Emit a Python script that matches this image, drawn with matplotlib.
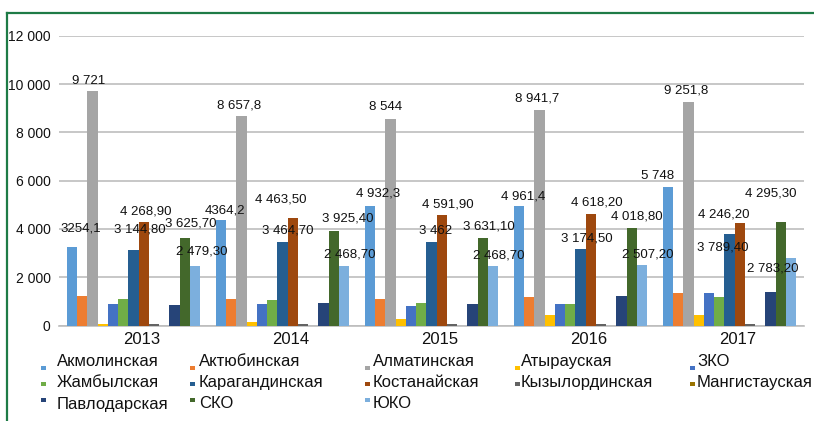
import matplotlib
matplotlib.use("Agg")
import matplotlib.pyplot as plt
from matplotlib.transforms import ScaledTranslation
from matplotlib.lines import Line2D
from matplotlib.patches import Rectangle
import numpy as np

years = ["2013", "2014", "2015", "2016", "2017"]
regions = ["Акмолинская", "Актюбинская", "Алматинская", "Атырауская", "ЗКО",
           "Жамбылская", "Карагандинская", "Костанайская", "Кызылординская",
           "Мангистауская", "Павлодарская", "СКО", "ЮКО"]

akmola = [3254.1, 4364.2, 4932.3, 4961.4, 5748]
aktobe = [1220, 1100, 1110, 1190, 1330]
almaty = [9721, 8657.8, 8544, 8941.7, 9251.8]
atyrau = [80, 130, 280, 440, 415]
zko = [900, 900, 820, 900, 1360]
zhambyl = [1110, 1060, 915, 900, 1165]
karaganda = [3144.8, 3464.7, 3462, 3174.5, 3789.4]
kostanay = [4268.9, 4463.5, 4591.9, 4618.2, 4246.2]
kyzylorda = [55, 55, 55, 55, 70]
mangistau = [0, 0, 0, 0, 0]
pavlodar = [833, 942, 887, 1208, 1400]
sko = [3625.7, 3925.4, 3631.1, 4018.8, 4295.3]
yuko = [2479.3, 2468.7, 2468.7, 2507.2, 2783.2]

series = [akmola, aktobe, almaty, atyrau, zko, zhambyl, karaganda, kostanay,
          kyzylorda, mangistau, pavlodar, sko, yuko]

# Data label texts as printed on the chart
label_akmola = ["3254,1", "4364,2", "4 932,3", "4 961,4", "5 748"]
label_almaty = ["9 721", "8 657,8", "8 544", "8 941,7", "9 251,8"]
label_karaganda = ["3 144,80", "3 464,70", "3 462", "3 174,50", "3 789,40"]
label_kostanay = ["4 268,90", "4 463,50", "4 591,90", "4 618,20", "4 246,20"]
label_sko = ["3 625,70", "3 925,40", "3 631,10", "4 018,80", "4 295,30"]
label_yuko = ["2 479,30", "2 468,70", "2 468,70", "2 507,20", "2 783,20"]

y_ticks = [0, 2000, 4000, 6000, 8000, 10000, 12000]
y_ticklabels = ["0", "2 000", "4 000", "6 000", "8 000", "10 000", "12 000"]

colors = ["#5B9BD5", "#ED7D31", "#A5A5A5", "#FFC000", "#4472C4", "#70AD47",
          "#255E91", "#9E480E", "#636363", "#997300", "#264478", "#43682B",
          "#7CAFDD"]

# label placement offsets (pixels, dx, dy) per labelled series and year
labelled = [
    (0, label_akmola, [(9, 19), (4, 10.6), (8.5, 13), (4, 10), (-10.5, 11)]),
    (2, label_almaty, [(-3.5, 10), (-2.5, 11.5), (-5, 12.7), (-2, 11.7), (-2.5, 12)]),
    (6, label_karaganda, [(6.5, 21), (5.5, 11.7), (4, 11.7), (6, 10.6), (-7, -12.6)]),
    (7, label_kostanay, [(2, 11), (-12.5, 19), (6, 11), (6.5, 12), (-16, 9.4)]),
    (11, label_sko, [(6, 15), (14, 12.4), (6.5, 11.5), (5.5, 12), (-10, 28.7)]),
    (12, label_yuko, [(7, 15), (5.7, 12), (5.5, 11), (5.5, 10.6), (-18.5, -10)]),
]

FONT = ["Liberation Sans", "DejaVu Sans"]
plt.rcParams["font.family"] = FONT

W, H = 814, 421
fig = plt.figure(figsize=(W / 100, H / 100), dpi=100)
fig.patch.set_facecolor("white")

ax = fig.add_axes([59 / W, 1 - 325.5 / H, 745 / W, (325.5 - 35.7) / H])
n = len(series)
bw = 0.0688
x = np.arange(len(years))
for j, (vals, c) in enumerate(zip(series, colors)):
    ax.bar(x + (j - (n - 1) / 2) * bw, vals, width=bw, color=c, linewidth=0, zorder=3)

for j, texts, offs in labelled:
    for i in range(len(years)):
        xb = x[i] + (j - (n - 1) / 2) * bw
        ax.annotate(texts[i], xy=(xb, series[j][i]), xytext=(offs[i][0], offs[i][1] - 0.5),
                    textcoords="offset pixels", ha="center", va="center",
                    fontsize=9.5, color="#111111", zorder=5)

ax.set_xlim(-0.5, len(years) - 0.5)
ax.set_ylim(0, 12000)
ax.set_yticks(y_ticks)
ax.set_yticklabels(y_ticklabels, fontsize=10, color="#111111")
ax.set_xticks(x)
ax.set_xticklabels(years, fontsize=12, color="#111111")
ax.tick_params(axis="y", length=0, pad=6)
ax.tick_params(axis="x", length=0, pad=5)
for lab in ax.get_xticklabels():
    lab.set_transform(lab.get_transform() + ScaledTranslation(8 / 100, 0, fig.dpi_scale_trans))
ax.grid(axis="y", color="#BDBDBD", linewidth=1.2, zorder=0)
for s in ["top", "right", "left"]:
    ax.spines[s].set_visible(False)
ax.spines["bottom"].set_color("#BDBDBD")
ax.spines["bottom"].set_linewidth(1.2)

# green frame
fig.add_artist(Line2D([6.5 / W, 6.5 / W], [0, 1 - 12.5 / H], color="#1E7B46", linewidth=1.6))
fig.add_artist(Line2D([6.5 / W, 1], [1 - 12.5 / H, 1 - 12.5 / H], color="#1E7B46", linewidth=1.6))

# legend (manual)
col_marker = [41, 190, 365, 515, 690]
col_text = [57, 199, 373, 521, 697]
row_base = [366, 387, 408.5]
row_marker = [368, 384, 400]
for k, name in enumerate(regions):
    r, c = divmod(k, 5)
    mx = col_marker[c]
    my = row_marker[r]
    fig.add_artist(Rectangle(((mx) / W, 1 - (my + 2.2) / H), 4.5 / W, 4.5 / H,
                             transform=fig.transFigure, color=colors[k], linewidth=0))
    fig.text(col_text[c] / W, 1 - row_base[r] / H, name, fontsize=12,
             ha="left", va="baseline", color="#111111")

fig.savefig("out.png", dpi=100)
